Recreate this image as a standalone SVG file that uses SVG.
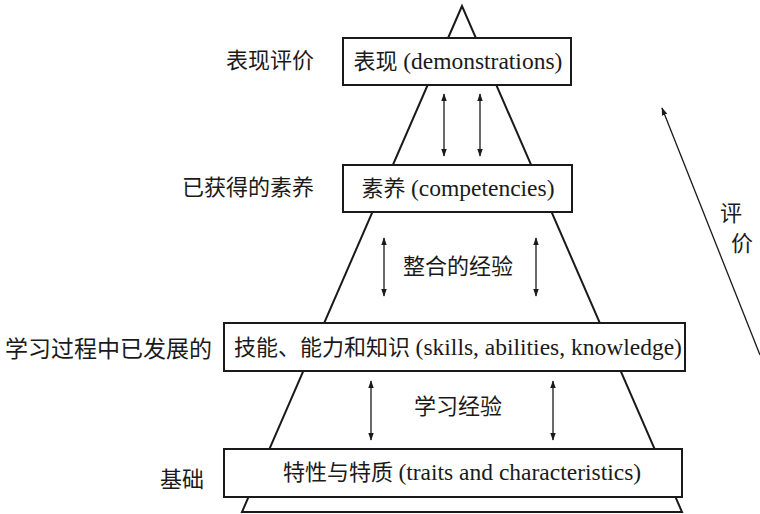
<svg xmlns="http://www.w3.org/2000/svg" width="760" height="514" viewBox="0 0 760 514">
  <style>
    .frame { fill: none; stroke: #1a1a1a; stroke-width: 2; }
    .box { fill: #ffffff; stroke: #1a1a1a; stroke-width: 2; }
    .lbl { font-family: "Liberation Serif", "Noto Sans CJK SC", serif; font-size: 22px; fill: #1a1a1a; }
    .en { font-size: 23.5px; }
    .mid { text-anchor: middle; }
    .end { text-anchor: end; }
    .arr { stroke: #1a1a1a; stroke-width: 1.3; fill: none; }
  </style>
  <defs>
    <marker id="head" viewBox="0 0 10 10" refX="9" refY="5" markerWidth="8" markerHeight="10" markerUnits="userSpaceOnUse" orient="auto-start-reverse">
      <path d="M0,1.5 L10,5 L0,8.5 Z" fill="#1a1a1a"/>
    </marker>
  </defs>
  <rect width="760" height="514" fill="#ffffff"/>

  <!-- pyramid outline -->
  <g id="pyramid">
    <polygon class="frame" points="462,6 242,512 682,512"/>
  </g>

  <!-- connectors -->
  <g id="connectors">
    <line class="arr" x1="444" y1="94" x2="444" y2="156" marker-start="url(#head)" marker-end="url(#head)"/>
    <line class="arr" x1="480" y1="94" x2="480" y2="156" marker-start="url(#head)" marker-end="url(#head)"/>
    <line class="arr" x1="384" y1="238" x2="384" y2="296" marker-start="url(#head)" marker-end="url(#head)"/>
    <line class="arr" x1="536" y1="238" x2="536" y2="296" marker-start="url(#head)" marker-end="url(#head)"/>
    <line class="arr" x1="371" y1="381" x2="371" y2="440" marker-start="url(#head)" marker-end="url(#head)"/>
    <line class="arr" x1="553" y1="381" x2="553" y2="440" marker-start="url(#head)" marker-end="url(#head)"/>
    <line class="arr" x1="760" y1="355" x2="662" y2="108" marker-end="url(#head)"/>
  </g>

  <g id="demonstrations">
    <rect class="box" x="343" y="38" width="228" height="47"/>
    <text class="lbl mid" x="458" y="69">表现 <tspan class="en">(demonstrations)</tspan></text>
  </g>
  <g id="competencies">
    <rect class="box" x="343" y="165" width="229" height="47"/>
    <text class="lbl mid" x="458" y="196">素养 <tspan class="en">(competencies)</tspan></text>
  </g>
  <g id="skills">
    <rect class="box" x="224" y="323" width="461" height="48"/>
    <text class="lbl mid" x="458" y="355">技能、能力和知识 <tspan class="en">(skills, abilities, knowledge)</tspan></text>
  </g>
  <g id="traits">
    <rect class="box" x="224" y="449" width="458" height="48"/>
    <text class="lbl mid" x="462" y="480">特性与特质 <tspan class="en">(traits and characteristics)</tspan></text>
  </g>

  <!-- side labels -->
  <g id="labels">
    <text class="lbl end" x="314" y="68">表现评价</text>
    <text class="lbl end" x="314" y="195">已获得的素养</text>
    <text class="lbl end" x="212" y="357" style="font-size:23px">学习过程中已发展的</text>
    <text class="lbl end" x="204" y="487">基础</text>
    <text class="lbl mid" x="458" y="274">整合的经验</text>
    <text class="lbl mid" x="458" y="414">学习经验</text>
    <text class="lbl mid" x="731" y="221">评</text>
    <text class="lbl mid" x="742" y="251">价</text>
  </g>
</svg>
